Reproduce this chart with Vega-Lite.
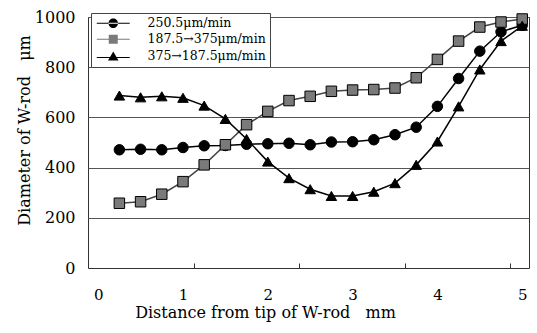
{
  "$schema": "https://vega.github.io/schema/vega-lite/v6.json",
  "autosize": {"type": "none"},
  "width": 441,
  "height": 251,
  "padding": {"left": 88, "top": 17, "right": 8, "bottom": 65},
  "background": "white",
  "config": {
    "font": "DejaVu Serif",
    "view": {"stroke": "#333", "strokeWidth": 1}
  },
  "data": {
    "values": [
      {"s": "250.5μm/min", "x": 0.25, "y": 471},
      {"s": "250.5μm/min", "x": 0.5, "y": 473},
      {"s": "250.5μm/min", "x": 0.75, "y": 471},
      {"s": "250.5μm/min", "x": 1.0, "y": 480},
      {"s": "250.5μm/min", "x": 1.25, "y": 487},
      {"s": "250.5μm/min", "x": 1.5, "y": 488},
      {"s": "250.5μm/min", "x": 1.75, "y": 493},
      {"s": "250.5μm/min", "x": 2.0, "y": 495},
      {"s": "250.5μm/min", "x": 2.25, "y": 497},
      {"s": "250.5μm/min", "x": 2.5, "y": 491},
      {"s": "250.5μm/min", "x": 2.75, "y": 502},
      {"s": "250.5μm/min", "x": 3.0, "y": 503},
      {"s": "250.5μm/min", "x": 3.25, "y": 511},
      {"s": "250.5μm/min", "x": 3.5, "y": 531},
      {"s": "250.5μm/min", "x": 3.75, "y": 561},
      {"s": "250.5μm/min", "x": 4.0, "y": 644},
      {"s": "250.5μm/min", "x": 4.25, "y": 755},
      {"s": "250.5μm/min", "x": 4.5, "y": 864},
      {"s": "250.5μm/min", "x": 4.75, "y": 941},
      {"s": "250.5μm/min", "x": 5.0, "y": 967},
      {"s": "187.5→375μm/min", "x": 0.25, "y": 258},
      {"s": "187.5→375μm/min", "x": 0.5, "y": 264},
      {"s": "187.5→375μm/min", "x": 0.75, "y": 294},
      {"s": "187.5→375μm/min", "x": 1.0, "y": 344},
      {"s": "187.5→375μm/min", "x": 1.25, "y": 411},
      {"s": "187.5→375μm/min", "x": 1.5, "y": 491},
      {"s": "187.5→375μm/min", "x": 1.75, "y": 571},
      {"s": "187.5→375μm/min", "x": 2.0, "y": 624},
      {"s": "187.5→375μm/min", "x": 2.25, "y": 667},
      {"s": "187.5→375μm/min", "x": 2.5, "y": 684},
      {"s": "187.5→375μm/min", "x": 2.75, "y": 704},
      {"s": "187.5→375μm/min", "x": 3.0, "y": 709},
      {"s": "187.5→375μm/min", "x": 3.25, "y": 711},
      {"s": "187.5→375μm/min", "x": 3.5, "y": 717},
      {"s": "187.5→375μm/min", "x": 3.75, "y": 758},
      {"s": "187.5→375μm/min", "x": 4.0, "y": 831},
      {"s": "187.5→375μm/min", "x": 4.25, "y": 904},
      {"s": "187.5→375μm/min", "x": 4.5, "y": 960},
      {"s": "187.5→375μm/min", "x": 4.75, "y": 980},
      {"s": "187.5→375μm/min", "x": 5.0, "y": 992},
      {"s": "375→187.5μm/min", "x": 0.25, "y": 687},
      {"s": "375→187.5μm/min", "x": 0.5, "y": 680},
      {"s": "375→187.5μm/min", "x": 0.75, "y": 684},
      {"s": "375→187.5μm/min", "x": 1.0, "y": 678},
      {"s": "375→187.5μm/min", "x": 1.25, "y": 647},
      {"s": "375→187.5μm/min", "x": 1.5, "y": 594},
      {"s": "375→187.5μm/min", "x": 1.75, "y": 514},
      {"s": "375→187.5μm/min", "x": 2.0, "y": 424},
      {"s": "375→187.5μm/min", "x": 2.25, "y": 358},
      {"s": "375→187.5μm/min", "x": 2.5, "y": 314},
      {"s": "375→187.5μm/min", "x": 2.75, "y": 287},
      {"s": "375→187.5μm/min", "x": 3.0, "y": 287},
      {"s": "375→187.5μm/min", "x": 3.25, "y": 304},
      {"s": "375→187.5μm/min", "x": 3.5, "y": 338},
      {"s": "375→187.5μm/min", "x": 3.75, "y": 411},
      {"s": "375→187.5μm/min", "x": 4.0, "y": 504},
      {"s": "375→187.5μm/min", "x": 4.25, "y": 644},
      {"s": "375→187.5μm/min", "x": 4.5, "y": 791},
      {"s": "375→187.5μm/min", "x": 4.75, "y": 904},
      {"s": "375→187.5μm/min", "x": 5.0, "y": 965}
    ]
  },
  "resolve": {"axis": {"x": "independent", "y": "independent"}},
  "layer": [
    {
      "mark": {"type": "line", "strokeWidth": 1.5},
      "encoding": {
        "x": {
          "field": "x", "type": "quantitative",
          "scale": {"domain": [-0.12, 5.08], "nice": false, "zero": false},
          "axis": {
            "orient": "bottom",
            "values": [1.13, 2.37, 3.62, 4.86],
            "labels": false, "title": null, "grid": false, "domain": false,
            "ticks": true, "tickSize": -5, "tickColor": "#333"
          }
        },
        "y": {
          "field": "y", "type": "quantitative",
          "scale": {"domain": [0, 1000], "nice": false},
          "axis": {
            "orient": "left",
            "values": [200, 400, 600, 800, 1000],
            "labels": false, "ticks": false, "domain": false, "title": null,
            "grid": true, "gridColor": "#555", "gridWidth": 1, "gridOpacity": 1
          }
        },
        "detail": {"field": "s"},
        "stroke": {"condition": {"test": "datum.s == '187.5→375μm/min'", "value": "#444444"}, "value": "#000000"},
        "strokeWidth": {"condition": {"test": "datum.s == '187.5→375μm/min'", "value": 1}, "value": 1.6}
      }
    },
    {
      "mark": {"type": "point", "filled": true, "stroke": "#000", "strokeWidth": 1, "opacity": 1, "size": 110},
      "encoding": {
        "x": {
          "field": "x", "type": "quantitative",
          "axis": {
            "orient": "bottom",
            "values": [0, 1, 2, 3, 4, 5],
            "ticks": false, "domain": false, "grid": false,
            "labelFontSize": 15, "labelColor": "#000", "labelPadding": 26,
            "labelBaseline": "middle",
            "title": "Distance from tip of W-rod\u00a0\u00a0\u00a0mm",
            "titleFontSize": 16, "titleFontWeight": "normal", "titleColor": "#000",
            "titleX": 177, "titleY": 49, "titleBaseline": "alphabetic", "titleAlign": "center"
          }
        },
        "y": {
          "field": "y", "type": "quantitative",
          "axis": {
            "orient": "left",
            "values": [0, 200, 400, 600, 800, 1000],
            "format": "d",
            "ticks": false, "domain": false, "grid": false,
            "labelFontSize": 16, "labelColor": "#000", "labelPadding": 13,
            "title": "Diameter of W-rod\u00a0\u00a0\u00a0μm",
            "titleFontSize": 16, "titleFontWeight": "normal", "titleColor": "#000",
            "titleX": -59, "titleY": 113, "titleBaseline": "alphabetic", "titleAlign": "center", "titleAngle": -90
          }
        },
        "shape": {
          "condition": [
            {"test": "datum.s == '187.5→375μm/min'", "value": "square"},
            {"test": "datum.s == '375→187.5μm/min'", "value": "triangle-up"}
          ],
          "value": "circle"
        },
        "fill": {"condition": {"test": "datum.s == '187.5→375μm/min'", "value": "#7a7a7a"}, "value": "#000000"}
      }
    },
    {
      "mark": {"type": "point", "filled": true, "opacity": 0, "size": 100, "stroke": "#000", "strokeWidth": 0.8},
      "encoding": {
        "x": {"field": "x", "type": "quantitative", "axis": null},
        "y": {"field": "y", "type": "quantitative", "axis": null},
        "shape": {
          "field": "s", "type": "nominal",
          "scale": {
            "domain": ["250.5μm/min", "187.5→375μm/min", "375→187.5μm/min"],
            "range": [
              "M-3.3,-0.1L3.3,-0.1L3.3,0.1L-3.3,0.1ZM-0.95,0A0.95,0.95,0,1,0,0.95,0A0.95,0.95,0,1,0,-0.95,0Z",
              "M-3.3,-0.08L3.3,-0.08L3.3,0.08L-3.3,0.08ZM-0.9,-0.9L0.9,-0.9L0.9,0.9L-0.9,0.9Z",
              "M-3.3,0.15L3.3,0.15L3.3,0.35L-3.3,0.35ZM0,-0.95L1.05,0.85L-1.05,0.85Z"
            ]
          },
          "legend": {
            "title": null, "orient": "none", "legendX": 3, "legendY": -4,
            "fillColor": "white", "strokeColor": "#444", "padding": 4,
            "labelFont": "DejaVu Serif", "labelFontSize": 12.5, "labelColor": "#000",
            "rowPadding": 3, "symbolOffset": 12, "labelOffset": 28,
            "symbolOpacity": 1, "symbolStrokeColor": "#000", "symbolStrokeWidth": 0.8, "symbolSize": 100
          }
        },
        "fill": {
          "field": "s", "type": "nominal",
          "scale": {"domain": ["250.5μm/min", "187.5→375μm/min", "375→187.5μm/min"], "range": ["#000000", "#7a7a7a", "#000000"]},
          "legend": {
            "title": null, "orient": "none", "legendX": 3, "legendY": -4,
            "fillColor": "white", "strokeColor": "#444", "padding": 4,
            "labelFont": "DejaVu Serif", "labelFontSize": 12.5, "labelColor": "#000",
            "rowPadding": 3, "symbolOffset": 12, "labelOffset": 28,
            "symbolOpacity": 1, "symbolStrokeColor": "#000", "symbolStrokeWidth": 0.8, "symbolSize": 100
          }
        }
      }
    }
  ]
}
